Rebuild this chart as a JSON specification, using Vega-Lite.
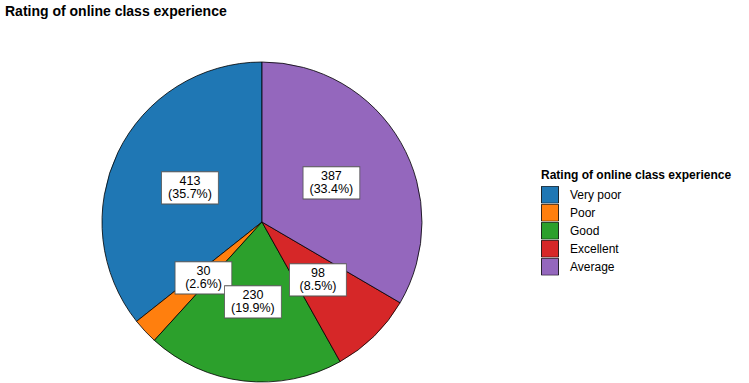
{
  "$schema": "https://vega.github.io/schema/vega-lite/v6.json",
  "autosize": "none",
  "width": 524,
  "height": 320,
  "padding": {"left": 0, "top": 62, "right": 225, "bottom": 1},
  "background": "white",
  "title": {
    "text": "Rating of online class experience",
    "anchor": "start",
    "frame": "group",
    "offset": 41,
    "dx": 5,
    "font": "Liberation Sans",
    "fontSize": 14,
    "fontWeight": "bold",
    "color": "black"
  },
  "data": {
    "values": [
      {"rating": "Very poor", "count": 413, "label": "413\n(35.7%)"},
      {"rating": "Poor", "count": 30, "label": "30\n(2.6%)"},
      {"rating": "Good", "count": 230, "label": "230\n(19.9%)"},
      {"rating": "Excellent", "count": 98, "label": "98\n(8.5%)"},
      {"rating": "Average", "count": 387, "label": "387\n(33.4%)"}
    ]
  },
  "encoding": {
    "theta": {"field": "count", "type": "quantitative", "stack": true},
    "order": {"field": "rating", "type": "nominal", "sort": "ascending"}
  },
  "layer": [
    {
      "mark": {"type": "arc", "stroke": "black", "strokeWidth": 0.8, "outerRadius": 160},
      "encoding": {
        "color": {
          "field": "rating",
          "type": "nominal",
          "scale": {
            "domain": ["Very poor", "Poor", "Good", "Excellent", "Average"],
            "range": ["#1f77b4", "#ff7f0e", "#2ca02c", "#d62728", "#9467bd"]
          },
          "legend": {
            "title": "Rating of online class experience",
            "orient": "none",
            "legendX": 541,
            "legendY": 108,
            "titleFont": "Liberation Sans",
            "titleFontSize": 12,
            "titleFontWeight": "bold",
            "titleColor": "black",
            "titlePadding": 4,
            "titleLimit": 400,
            "labelFont": "Liberation Sans",
            "labelFontSize": 12,
            "labelColor": "black",
            "labelOffset": 11,
            "symbolType": "square",
            "symbolSize": 289,
            "symbolStrokeColor": "black",
            "symbolStrokeWidth": 0.8,
            "symbolOpacity": 1,
            "rowPadding": 0,
            "clipHeight": 17.5
          }
        }
      }
    },
    {
      "mark": {"type": "text", "radius": 80, "text": "▃", "font": "DejaVu Sans", "fontSize": 72, "fill": "white", "stroke": "#555555", "strokeWidth": 0.8, "baseline": "alphabetic", "align": "center", "dy": -1}
    },
    {
      "mark": {"type": "text", "radius": 80, "font": "Liberation Sans", "fontSize": 12.5, "lineHeight": 13, "lineBreak": "\n", "color": "black", "baseline": "middle", "align": "center", "dy": -6},
      "encoding": {"text": {"field": "label"}}
    }
  ]
}
